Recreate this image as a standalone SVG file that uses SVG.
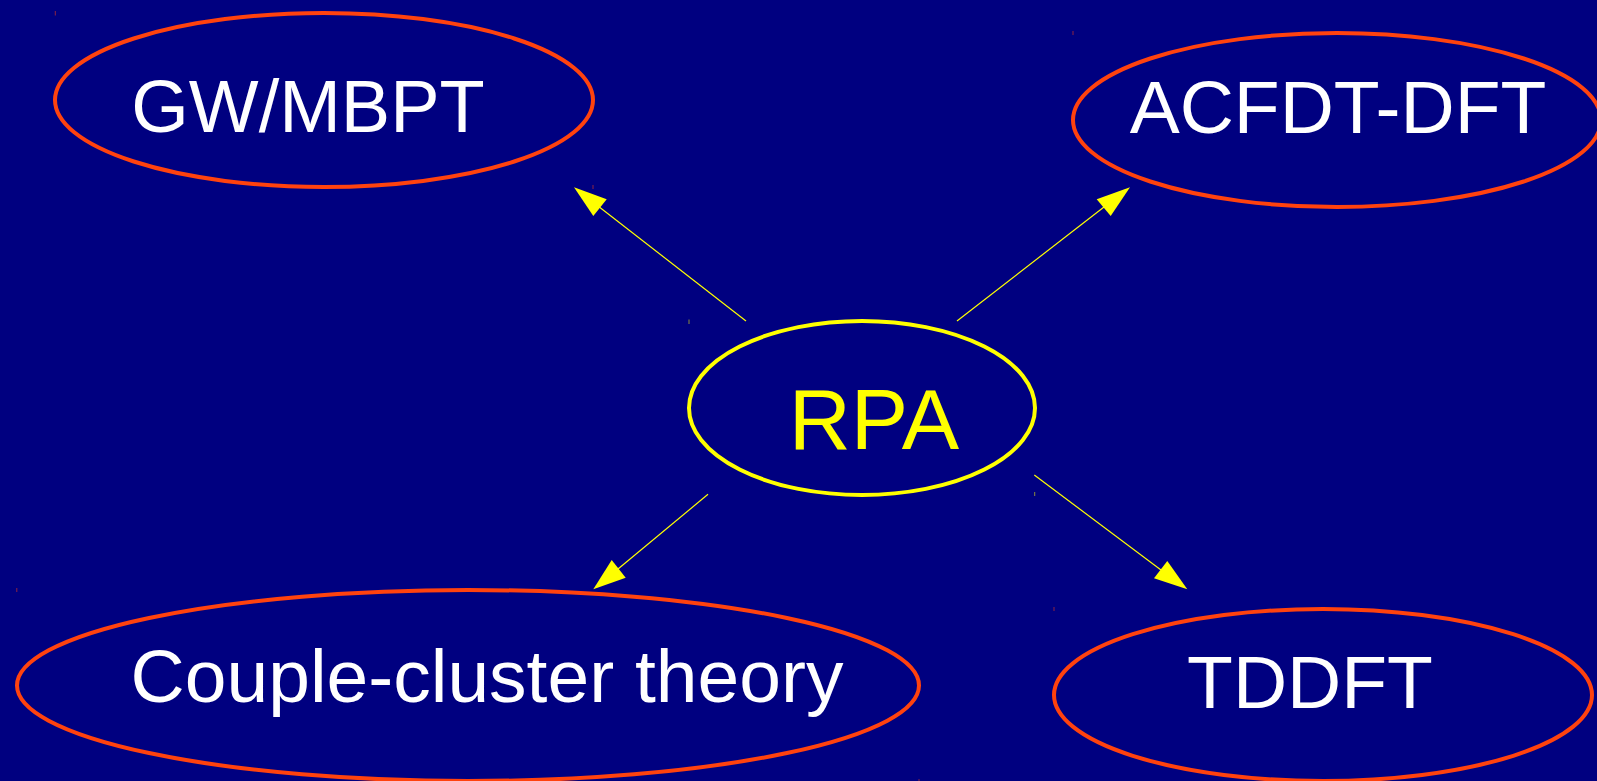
<svg xmlns="http://www.w3.org/2000/svg" width="1597" height="781" viewBox="0 0 1597 781">
<style>
.outer{fill:none;stroke:#FF420E;stroke-width:4}
.center{fill:none;stroke:#FFFF00;stroke-width:4}
.lbl{font-family:"Liberation Sans",Arial,sans-serif;font-size:75px;fill:#FFFFFF;text-anchor:middle}
.conn{stroke:#FFFF00;stroke-width:1.2;fill:none}
.head{fill:#FFFF00}
.tr{fill:#FF420E;opacity:0.55}
.ty{fill:#FFFF00;opacity:0.55}
</style>
<rect width="1597" height="781" fill="#000080"/>
<g id="gw">
<ellipse class="outer" cx="324" cy="100" rx="269" ry="87"/>
<text class="lbl" x="308" y="132" style="font-size:74px">GW/MBPT</text>
</g>
<g id="acfdt">
<ellipse class="outer" cx="1337" cy="120" rx="264" ry="87"/>
<text class="lbl" x="1338" y="133">ACFDT-DFT</text>
</g>
<g id="rpa">
<ellipse class="center" cx="862" cy="408" rx="173" ry="87"/>
<text class="lbl" x="874" y="449" style="font-size:86px;fill:#FFFF00">RPA</text>
</g>
<g id="cc">
<ellipse class="outer" cx="468" cy="685.5" rx="451" ry="95.5"/>
<text class="lbl" x="487" y="702">Couple-cluster theory</text>
</g>
<g id="tddft">
<ellipse class="outer" cx="1323" cy="695" rx="269" ry="86"/>
<text class="lbl" x="1310" y="708">TDDFT</text>
</g>
<g id="connectors">
<line class="conn" x1="746" y1="321" x2="598" y2="206"/>
<polygon class="head" points="574,187.3 606.7,199.3 593.3,216"/>
<line class="conn" x1="957" y1="321" x2="1104" y2="207"/>
<polygon class="head" points="1130,187.3 1096.7,199.3 1110.7,216"/>
<line class="conn" x1="708" y1="494.3" x2="618" y2="569"/>
<polygon class="head" points="593.3,589.3 611.7,560 625.7,577.7"/>
<line class="conn" x1="1034.3" y1="475" x2="1161" y2="570"/>
<polygon class="head" points="1187.3,589.3 1167.3,561 1154,578.3"/>
</g>
<g id="marks">
<rect class="tr" x="54.8" y="11" width="1" height="4.5"/>
<rect class="tr" x="592.5" y="185" width="1" height="4"/>
<rect class="tr" x="1072.5" y="31" width="1" height="4"/>
<rect class="ty" x="688.5" y="319.5" width="1" height="4.5"/>
<rect class="ty" x="1034.2" y="492" width="1" height="4"/>
<rect class="tr" x="16.3" y="588" width="1" height="4"/>
<rect class="tr" x="1053.5" y="607" width="1" height="4"/>
<rect class="tr" x="918.5" y="779" width="1" height="2"/>
</g>
</svg>
